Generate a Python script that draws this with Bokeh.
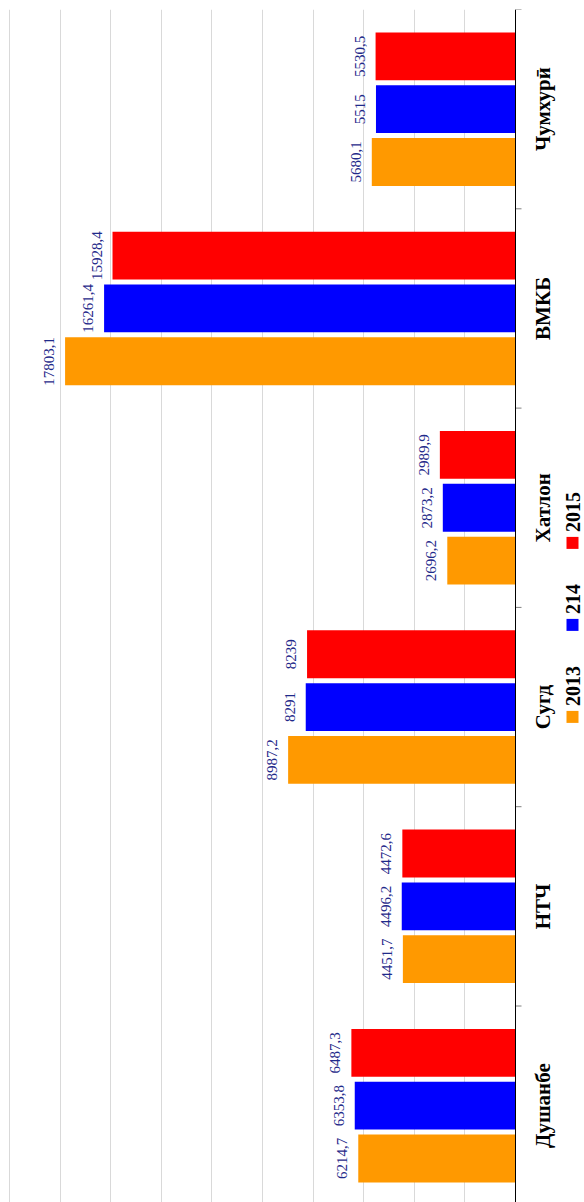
import math
from bokeh.plotting import figure
from bokeh.models import Range1d, Span, Grid, FixedTicker, ColumnDataSource
from bokeh.core.properties import value
from bokeh.embed import file_html
from bokeh.resources import INLINE

# ---------------- data ----------------
categories = ["Душанбе", "НТЧ", "Сугд", "Хатлон", "ВМКБ", "Чумхурӣ"]
series = ["2013", "214", "2015"]
v2013 = [6214.7, 4451.7, 8987.2, 2696.2, 17803.1, 5680.1]
v214 = [6353.8, 4496.2, 8291, 2873.2, 16261.4, 5515]
v2015 = [6487.3, 4472.6, 8239, 2989.9, 15928.4, 5530.5]
grid_ticks = list(range(0, 20001, 2000))

# ---------------- style / layout ----------------
colors = ["#FF9900", "#0000FF", "#FF0000"]
label_color = "#1f2a8a"
serif = "Liberation Serif"
W, H = 584, 1202
top_border = 9                    # blank strip above the plot area
zero_px = 515                     # frame px of value 0
left_px = 9                       # frame px of value 20000
px_per_val = (zero_px - left_px) / 20000
cat_px = 199.3                    # px per category
x_start = 20000 + left_px / px_per_val
x_end = -(W - zero_px) / px_per_val
y_end = len(categories)
y_start = y_end - (H - top_border) / cat_px
offsets = [-0.265, 0.0, 0.265]
bar_h = 0.24

def px2val(px):
    return px / px_per_val

p = figure(width=W, height=H, output_backend="svg", toolbar_location=None,
           x_axis_type=None, y_axis_type=None,
           x_range=Range1d(x_start, x_end), y_range=Range1d(y_start, y_end),
           min_border=0, min_border_top=top_border, outline_line_color=None)
p.background_fill_color = "white"
p.border_fill_color = "white"

grid = Grid(dimension=0, ticker=FixedTicker(ticks=grid_ticks),
            grid_line_color="#d9d9d9", grid_line_width=1)
p.add_layout(grid)

centers = [i + 0.5 for i in range(len(categories))]
all_vals = [v2013, v214, v2015]
for name, vals, off, col in zip(series, all_vals, offsets, colors):
    ys = [c + off for c in centers]
    src = ColumnDataSource(dict(y=ys, v=vals,
                                lab=[f"{v:g}".replace(".", ",") for v in vals]))
    p.hbar(y="y", left=0, right="v", height=bar_h, source=src,
           fill_color=col, line_color=None)
    p.text(x="v", y="y", text="lab", source=src, angle=math.pi / 2,
           text_align="center", text_baseline="bottom", x_offset=-11,
           text_font=value(serif), text_font_size="15px", text_color=label_color)

# value axis line at 0 and category boundary ticks
p.add_layout(Span(location=0, dimension="height", line_color="black", line_width=1))
bounds = list(range(len(categories) + 1))
p.segment(x0=[0] * len(bounds), x1=[-px2val(6)] * len(bounds), y0=bounds, y1=bounds,
          line_color="#808080", line_width=1)

# category labels
p.text(x=[-px2val(27)] * len(categories), y=centers, text=categories,
       angle=math.pi / 2, text_align="center", text_baseline="middle",
       text_font=value(serif), text_font_style="bold", text_font_size="21px",
       text_color="black")

# legend (rotated, drawn manually)
leg_x = -px2val(57)
sq = 12
gap_txt = 5
gap_entry = 35
char_w = 10
total = sum(sq + gap_txt + char_w * len(s) for s in series) + gap_entry * (len(series) - 1)
pos = 3.0 * cat_px + total / 2     # px downward from top boundary (legend bottom)
sq_y, txt_y = [], []
for s in series:
    sq_y.append(len(categories) - (pos - sq / 2) / cat_px)
    txt_y.append(len(categories) - (pos - sq - gap_txt) / cat_px)
    pos -= sq + gap_txt + char_w * len(s) + gap_entry
p.scatter(x=[leg_x] * 3, y=sq_y, marker="square", size=sq, fill_color=colors,
          line_color=None)
p.text(x=[leg_x] * 3, y=txt_y, text=series, angle=math.pi / 2,
       text_align="left", text_baseline="middle",
       text_font=value(serif), text_font_style="bold", text_font_size="20px",
       text_color="black")

open("out.html", "w").write(file_html(p, INLINE))
